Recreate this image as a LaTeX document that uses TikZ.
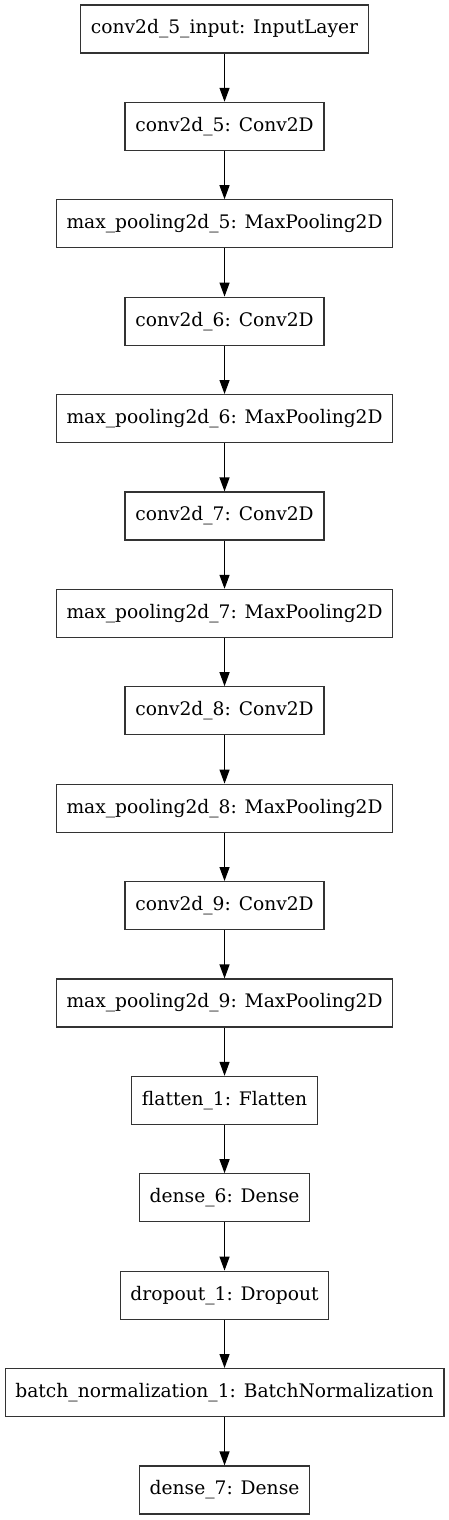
\documentclass[tikz,border=0pt]{standalone}
\usepackage{fontspec}
\setmainfont{DejaVu Serif}
\usetikzlibrary{arrows.meta,positioning}

\begin{document}
\begin{tikzpicture}[
  node distance=36.15pt,
  layer/.style={rectangle,draw=black!80,line width=0.9pt,fill=white,
                minimum height=36pt,inner xsep=7.7pt,
                font=\fontsize{14}{17}\selectfont},
  arr/.style={-{Triangle[length=10.5pt,width=7.5pt]},line width=0.9pt,black}
]
  \useasboundingbox (0,0) rectangle (336.75pt,-1140pt);
  \node[layer] (input) at (168.4pt,-21.75pt) {conv2d\_5\_input: InputLayer};
  \node[layer, below=of input] (conv5)  {conv2d\_5: Conv2D};
  \node[layer, below=of conv5] (pool5)  {max\_pooling2d\_5: MaxPooling2D};
  \node[layer, below=of pool5] (conv6)  {conv2d\_6: Conv2D};
  \node[layer, below=of conv6] (pool6)  {max\_pooling2d\_6: MaxPooling2D};
  \node[layer, below=of pool6] (conv7)  {conv2d\_7: Conv2D};
  \node[layer, below=of conv7] (pool7)  {max\_pooling2d\_7: MaxPooling2D};
  \node[layer, below=of pool7] (conv8)  {conv2d\_8: Conv2D};
  \node[layer, below=of conv8] (pool8)  {max\_pooling2d\_8: MaxPooling2D};
  \node[layer, below=of pool8] (conv9)  {conv2d\_9: Conv2D};
  \node[layer, below=of conv9] (pool9)  {max\_pooling2d\_9: MaxPooling2D};
  \node[layer, below=of pool9] (flatten) {flatten\_1: Flatten};
  \node[layer, below=of flatten] (dense6) {dense\_6: Dense};
  \node[layer, below=of dense6] (dropout) {dropout\_1: Dropout};
  \node[layer, below=of dropout] (batchnorm) {batch\_normalization\_1: BatchNormalization};
  \node[layer, below=of batchnorm] (dense7) {dense\_7: Dense};

  \draw[arr] (input)   -- (conv5);
  \draw[arr] (conv5)   -- (pool5);
  \draw[arr] (pool5)   -- (conv6);
  \draw[arr] (conv6)   -- (pool6);
  \draw[arr] (pool6)   -- (conv7);
  \draw[arr] (conv7)   -- (pool7);
  \draw[arr] (pool7)   -- (conv8);
  \draw[arr] (conv8)   -- (pool8);
  \draw[arr] (pool8)   -- (conv9);
  \draw[arr] (conv9)   -- (pool9);
  \draw[arr] (pool9)   -- (flatten);
  \draw[arr] (flatten) -- (dense6);
  \draw[arr] (dense6)  -- (dropout);
  \draw[arr] (dropout) -- (batchnorm);
  \draw[arr] (batchnorm) -- (dense7);
\end{tikzpicture}
\end{document}
